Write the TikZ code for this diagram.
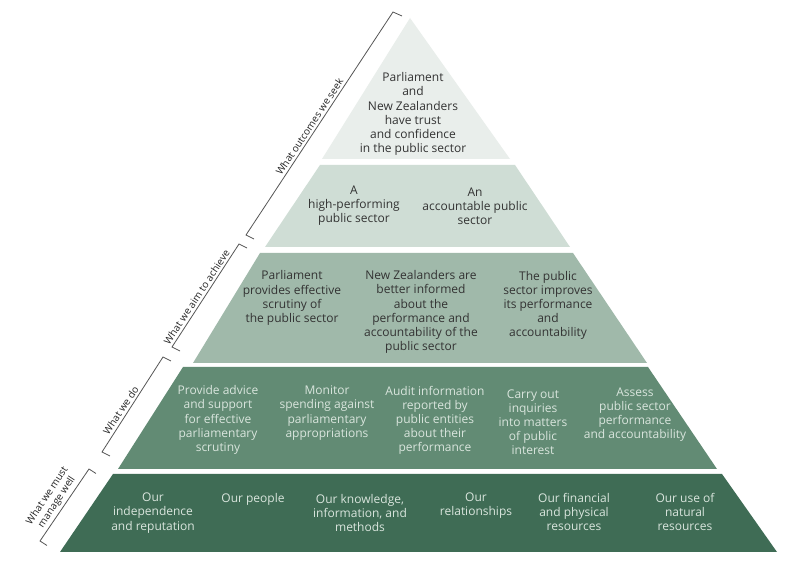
\documentclass[tikz,border=0pt]{standalone}
\usepackage{fontspec}
\setmainfont{Open Sans}
\usetikzlibrary{calc}
\definecolor{tierA}{HTML}{E9EEEB}
\definecolor{tierB}{HTML}{CFDDD5}
\definecolor{tierC}{HTML}{A0B9AA}
\definecolor{tierD}{HTML}{628B74}
\definecolor{tierE}{HTML}{3F6C55}
\definecolor{darktext}{HTML}{333333}
\definecolor{lighttext}{HTML}{D9E5DD}
\definecolor{bracketc}{HTML}{555555}
\begin{document}
\begin{tikzpicture}[x=0.75pt,y=-0.75pt,
  txt/.style={align=center,font=\fontsize{9}{10.6}\selectfont,inner sep=0pt},
  dk/.style={txt,text=darktext},
  lt/.style={txt,text=lighttext},
  brk/.style={draw=bracketc,line width=0.6pt},
  blabel/.style={font=\fontsize{7.5}{8.6}\selectfont,text=darktext!70!black,rotate=56.5,anchor=south,inner sep=1.8pt,align=center}]
\useasboundingbox (0,0) rectangle (797,573);
\fill[white] (0,0) rectangle (797,573);
% tiers
\fill[tierA] (410,18) -- (510,159) -- (322,159) -- cycle;
\fill[tierB] (320,165) -- (515,165) -- (570,247) -- (265,247) -- cycle;
\fill[tierC] (260,253) -- (573,253) -- (647,363) -- (193,363) -- cycle;
\fill[tierD] (183,367) -- (648,367) -- (717,469) -- (118,469) -- cycle;
\fill[tierE] (113,474) -- (722,474) -- (777,552) -- (60,552) -- cycle;
% tier 1
\node[dk] (t1) at (413,114) {Parliament\\and\\New Zealanders\\have trust\\and confidence\\in the public sector};
% tier 2
\node[dk] (t2a) at (354,206) {A\\high-performing\\public sector};
\node[dk] (t2b) at (475,206) {An\\accountable public\\sector};
% tier 3
\node[dk] (t3a) at (292,298) {Parliament\\provides effective\\scrutiny of\\the public sector};
\node[dk] (t3b) at (421,312) {New Zealanders are\\better informed\\about the\\performance and\\accountability of the\\public sector};
\node[dk] (t3c) at (548,305.5) {The public\\sector improves\\its performance\\and\\accountability};
% tier 4
\node[lt] (t4a) at (218,420) {Provide advice\\and support\\for effective\\parliamentary\\scrutiny};
\node[lt] (t4b) at (327,413) {Monitor\\spending against\\parliamentary\\appropriations};
\node[lt] (t4c) at (435,420.5) {Audit information\\reported by\\public entities\\about their\\performance};
\node[lt] (t4d) at (533,422) {Carry out\\inquiries\\into matters\\of public\\interest};
\node[lt] (t4e) at (635,414.5) {Assess\\public sector\\performance\\and accountability};
% tier 5
\node[lt] (t5a) at (153,513) {Our\\independence\\and reputation};
\node[lt] (t5b) at (253,499) {Our people};
\node[lt] (t5c) at (360,513) {Our knowledge,\\information, and\\methods};
\node[lt] (t5d) at (476,506) {Our\\relationships};
\node[lt] (t5e) at (574,512) {Our financial\\and physical\\resources};
\node[lt] (t5f) at (685,512) {Our use of\\natural\\resources};
% brackets
\coordinate (b1t) at (393,12);  \coordinate (b1b) at (246,235);
\coordinate (b2t) at (239,244); \coordinate (b2b) at (172,347);
\coordinate (b3t) at (163,357); \coordinate (b3b) at (102,452);
\coordinate (b4t) at (89,469);  \coordinate (b4b) at (40,541);
\draw[brk] ($(b1t)+(9,4)$) -- (b1t) -- (b1b) node[blabel,pos=0.53] (l1) {What outcomes we seek} -- ($(b1b)+(8,4)$);
\draw[brk] ($(b2t)+(8,4)$) -- (b2t) -- (b2b) node[blabel,pos=0.55] (l2) {What we aim to achieve} -- ($(b2b)+(8,4)$);
\draw[brk] ($(b3t)+(8,4)$) -- (b3t) -- (b3b) node[blabel,pos=0.6] (l3) {What we do} -- ($(b3b)+(8,4)$);
\draw[brk] ($(b4t)+(7,4.5)$) -- (b4t) -- (b4b) node[blabel,pos=0.52] (l4) {What we must\\manage well} -- ($(b4b)+(7,4.5)$);
\end{tikzpicture}
\end{document}
